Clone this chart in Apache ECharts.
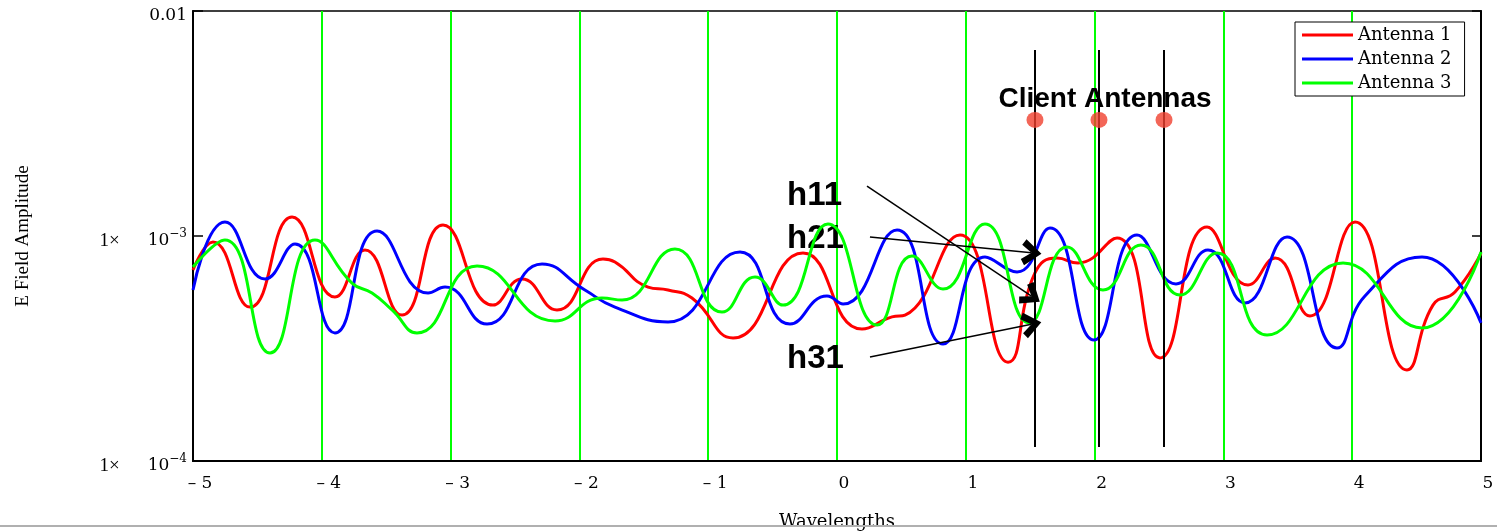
<!DOCTYPE html>
<html><head><meta charset="utf-8">
<script src="https://cdn.jsdelivr.net/npm/echarts@6/dist/echarts.min.js"></script>
<style>html,body{margin:0;padding:0;background:#fff}#c{width:1497px;height:531px}</style>
</head><body><div id="c"></div>
<script>
// ---- data ----
const xTicks = [-5, -4, -3, -2, -1, 0, 1, 2, 3, 4, 5];
const seriesNames = ['Antenna 1', 'Antenna 2', 'Antenna 3'];

const ant1X = [-5.000,-4.845,-4.557,-4.231,-3.898,-3.665,-3.377,-3.059,-2.671,-2.446,-2.174,-1.817,-1.724,-1.467,-1.312,-1.126,-0.807,-0.264,0.194,0.427,0.528,0.955,1.328,1.537,1.708,1.871,2.174,2.508,2.873,3.191,3.401,3.672,4.022,4.425,4.627,4.798,5.000];
const ant1Y = [0.706e-3,0.940e-3,0.483e-3,1.214e-3,0.536e-3,0.867e-3,0.445e-3,1.119e-3,0.493e-3,0.644e-3,0.469e-3,0.790e-3,0.766e-3,0.593e-3,0.575e-3,0.530e-3,0.352e-3,0.840e-3,0.386e-3,0.437e-3,0.445e-3,1.010e-3,0.275e-3,0.685e-3,0.798e-3,0.759e-3,0.980e-3,0.287e-3,1.096e-3,0.606e-3,0.798e-3,0.441e-3,1.154e-3,0.254e-3,0.493e-3,0.564e-3,0.840e-3];

const ant2X = [-5.000,-4.752,-4.441,-4.208,-3.898,-3.571,-3.175,-3.043,-2.717,-2.290,-1.957,-1.724,-1.312,-0.753,-0.365,-0.078,0.047,0.466,0.823,1.149,1.398,1.654,1.995,2.329,2.632,2.880,3.168,3.494,3.882,4.099,4.542,5.000];
const ant2Y = [0.575e-3,1.154e-3,0.644e-3,0.921e-3,0.371e-3,1.052e-3,0.558e-3,0.593e-3,0.406e-3,0.751e-3,0.575e-3,0.483e-3,0.415e-3,0.849e-3,0.406e-3,0.541e-3,0.498e-3,1.063e-3,0.331e-3,0.807e-3,0.692e-3,1.085e-3,0.345e-3,1.010e-3,0.612e-3,0.867e-3,0.504e-3,0.990e-3,0.318e-3,0.541e-3,0.807e-3,0.411e-3];

const ant3X = [-5.000,-4.752,-4.402,-4.053,-3.766,-3.610,-3.455,-3.261,-2.795,-2.189,-1.825,-1.669,-1.258,-0.893,-0.637,-0.419,-0.070,0.311,0.582,0.823,1.149,1.491,1.786,2.065,2.360,2.663,2.950,3.339,3.929,4.542,5.000];
const ant3Y = [0.728e-3,0.960e-3,0.302e-3,0.960e-3,0.618e-3,0.558e-3,0.469e-3,0.371e-3,0.736e-3,0.419e-3,0.530e-3,0.519e-3,0.876e-3,0.459e-3,0.657e-3,0.493e-3,1.131e-3,0.402e-3,0.815e-3,0.581e-3,1.131e-3,0.411e-3,0.894e-3,0.575e-3,0.912e-3,0.547e-3,0.840e-3,0.363e-3,0.759e-3,0.390e-3,0.849e-3];

// client antennas (positions in wavelengths) and marker height
const clientX = [1.537, 2.034, 2.539];
const clientY = [3.28e-3, 3.28e-3, 3.28e-3];
const clientLineTop = 6.71e-3;
const clientLineBottom = 1.154e-4;

// annotation texts and anchor points (data units)
const clientLabel = { text: 'Client Antennas', x: 2.081, y: 4.06e-3 };
const hLabels = [
  { text: 'h11', x: -0.388, y: 1.506e-3 },
  { text: 'h21', x: -0.388, y: 0.970e-3 },
  { text: 'h31', x: -0.388, y: 0.284e-3 }
];
const hArrows = [
  { from: [0.233, 1.668e-3], to: [1.510, 0.540e-3] },
  { from: [0.256, 0.990e-3], to: [1.510, 0.842e-3] },
  { from: [0.256, 0.290e-3], to: [1.510, 0.405e-3] }
];

const colors = ['#ff0000', '#0000ff', '#00ff00'];
const pairs = (xs, ys) => xs.map((x, i) => [x, ys[i]]);

const chart = echarts.init(document.getElementById('c'), null, { renderer: 'canvas' });
const serifW = 'DejaVu Serif';
const chevron = 'path://M0,13 L10,0 L20,13 L15.5,16 L10,8 L4.5,16 Z';

chart.setOption({
  animation: false,
  backgroundColor: '#ffffff',
  grid: { left: 193, right: 16, top: 11, bottom: 70, outerBoundsMode: 'none', containLabel: false, show: true, borderColor: '#000', borderWidth: 1.5, backgroundColor: 'transparent' },
  legend: {
    data: seriesNames.map(n => ({ name: n, icon: 'rect' })),
    orient: 'vertical',
    left: 1295, top: 22,
    padding: [4, 13, 4, 7],
    itemGap: 6,
    itemWidth: 51, itemHeight: 3,
    backgroundColor: '#fff',
    borderColor: '#000', borderWidth: 1,
    textStyle: { fontFamily: serifW, fontSize: 18, color: '#000' }
  },
  xAxis: {
    type: 'value', min: -5, max: 5, interval: 1,
    name: 'Wavelengths', nameLocation: 'middle', nameGap: 52,
    nameTextStyle: { fontFamily: serifW, fontSize: 18, color: '#000' },
    axisLine: { show: true, onZero: false, lineStyle: { color: '#000', width: 2 } },
    axisTick: { show: false },
    axisLabel: {
      margin: 14, color: '#000', fontFamily: serifW, fontSize: 17, padding: [0, 0, 0, 14],
      formatter: v => (v < 0 ? '– ' + (-v) : String(v))
    },
    splitLine: { show: true, showMinLine: false, showMaxLine: false, lineStyle: { color: '#00ff00', width: 2 } }
  },
  yAxis: [{
    type: 'log', logBase: 10, min: 1e-4, max: 1e-2,
    name: 'E Field Amplitude', nameLocation: 'middle', nameGap: 160, nameRotate: 90,
    nameTextStyle: { fontFamily: 'Liberation Serif', fontSize: 19, color: '#000' },
    axisLine: { show: true, onZero: false, lineStyle: { color: '#000', width: 2 } },
    axisTick: { show: true, inside: true, length: 10, lineStyle: { color: '#000', width: 1.5 } },
    splitLine: { show: false },
    axisLabel: {
      margin: 6, color: '#000', padding: [10, 0, 0, 0],
      formatter: v => {
        const e = Math.round(Math.log10(v));
        if (e === -2) return '{d|0.01}';
        return '{a|1×}{b|10}{s|−' + (-e) + '}';
      },
      rich: {
        a: { fontFamily: 'Liberation Serif', fontSize: 19, color: '#000', padding: [0, 28, 0, 0] },
        b: { fontFamily: serifW, fontSize: 17, color: '#000' },
        s: { fontFamily: serifW, fontSize: 12, color: '#000', padding: [0, 0, 14, 0] },
        d: { fontFamily: serifW, fontSize: 17, color: '#000' }
      }
    }
  }, {
    type: 'log', logBase: 10, min: 1e-4, max: 1e-2, position: 'right',
    axisLine: { show: true, onZero: false, lineStyle: { color: '#000', width: 2 } },
    axisTick: { show: true, inside: true, length: 9, lineStyle: { color: '#000', width: 1.5 } },
    axisLabel: { show: false },
    splitLine: { show: false }
  }],
  series: [
    { name: seriesNames[0], type: 'line', data: pairs(ant1X, ant1Y), smooth: 0.5, symbol: 'none', lineStyle: { color: colors[0], width: 3 }, itemStyle: { color: colors[0] }, z: 3 },
    { name: seriesNames[1], type: 'line', data: pairs(ant2X, ant2Y), smooth: 0.5, symbol: 'none', lineStyle: { color: colors[1], width: 3 }, itemStyle: { color: colors[1] }, z: 4 },
    { name: seriesNames[2], type: 'line', data: pairs(ant3X, ant3Y), smooth: 0.5, symbol: 'none', lineStyle: { color: colors[2], width: 3 }, itemStyle: { color: colors[2] }, z: 5 },
    {
      name: 'clients', type: 'scatter', z: 8,
      data: pairs(clientX, clientY),
      symbol: 'circle', symbolSize: [17, 16],
      itemStyle: { color: '#f0402e' },
      markLine: {
        silent: true, animation: false, z: 7,
        label: { show: false },
        symbol: ['none', 'none'],
        lineStyle: { color: '#000', width: 2, type: 'solid' },
        data: clientX.map(x => [
          { coord: [x, clientLineTop], symbol: 'none' },
          { coord: [x, clientLineBottom], symbol: 'none' }
        ]).concat(hArrows.map(a => [
          { coord: a.from, symbol: 'none', lineStyle: { width: 1.5, color: '#000' } },
          { coord: a.to, symbol: chevron, symbolSize: [26, 20], lineStyle: { width: 1.5, color: '#000' } }
        ]))
      },
      markPoint: {
        silent: true, animation: false, symbol: 'circle', symbolSize: 0,
        data: [
          { coord: [clientLabel.x, clientLabel.y], label: { show: true, formatter: clientLabel.text, position: 'inside', align: 'center', verticalAlign: 'middle', fontFamily: 'Liberation Sans', fontWeight: 'bold', fontSize: 28, color: '#000' } }
        ].concat(hLabels.map(h => ({
          coord: [h.x, h.y],
          label: { show: true, formatter: h.text, position: 'inside', align: 'left', verticalAlign: 'middle', fontFamily: 'Liberation Sans', fontWeight: 'bold', fontSize: 33, color: '#000' }
        })))
      }
    }
  ],
  graphic: [
    { type: 'line', z: 100, shape: { x1: 0, y1: 526, x2: 1497, y2: 526 }, style: { stroke: '#b0b0b0', lineWidth: 2 } }
  ]
});
</script>
</body></html>
